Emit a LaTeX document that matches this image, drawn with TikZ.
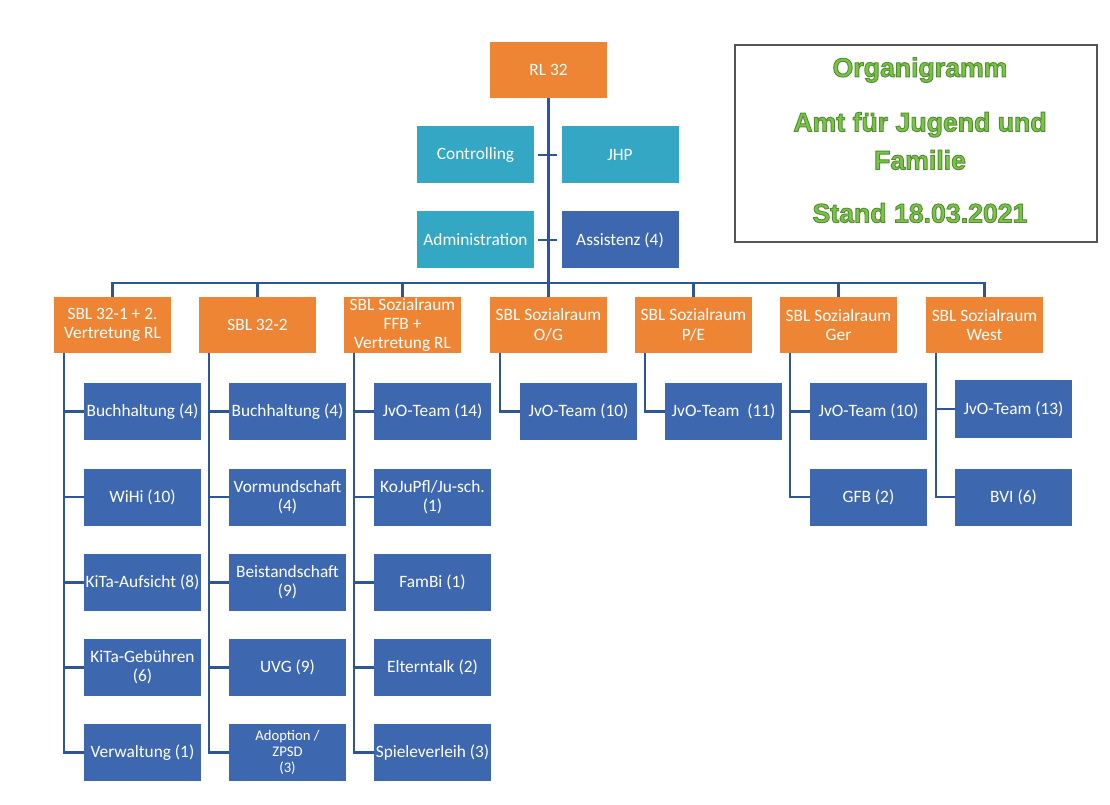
\documentclass[tikz,border=0pt]{standalone}
\usepackage{fontspec}
\setmainfont{Carlito}
\newfontfamily\titlefont{Liberation Sans}
\usetikzlibrary{calc}
\definecolor{orangebox}{HTML}{EE8535}
\definecolor{bluebox}{HTML}{3D68B0}
\definecolor{tealbox}{HTML}{33A7C4}
\definecolor{linecol}{HTML}{2E5596}
\definecolor{titlegreen}{HTML}{7AC447}
\definecolor{framegray}{HTML}{555555}
\newcommand\outlinedtext[1]{\special{pdf:literal direct 0.33 0.55 0.20 RG 0.7 w 2 Tr}#1\special{pdf:literal direct 0 Tr}}
\begin{document}
\begin{tikzpicture}[x=0.75pt,y=-0.75pt,
  box/.style={minimum width=87.75pt,minimum height=42.75pt,inner sep=1pt,align=center,text=white,font=\fontsize{13}{14.5}\selectfont},
  sbl/.style={box,fill=orangebox,minimum height=42pt},
  unit/.style={box,fill=bluebox},
  staff/.style={box,fill=tealbox},
  conn/.style={draw=linecol,line width=1.8pt},
  titletext/.style={text=titlegreen,font=\titlefont\bfseries\fontsize{20}{28.5}\selectfont,align=center}
]
\useasboundingbox[fill=white] (0,0) rectangle (1110,805);

% top
\node[sbl] (rl) at (548.5,70) {RL 32};
\node[staff] (ctrl) at (475.5,155) {Controlling};
\node[staff] (jhp) at (620,155) {JHP};
\node[staff] (adm) at (475.5,240) {Administration};
\node[unit] (ass) at (620,240) {Assistenz (4)};

% SBL row
\node[sbl] (s1) at (112.5,325) {SBL 32-1 + 2.\\Vertretung RL};
\node[sbl] (s2) at (257.5,325) {SBL 32-2};
\node[sbl] (s3) at (402.5,325) {SBL Sozialraum\\FFB +\\Vertretung RL};
\node[sbl] (s4) at (548.5,325) {SBL Sozialraum\\O/G};
\node[sbl] (s5) at (693.5,325) {SBL Sozialraum\\P/E};
\node[sbl] (s6) at (838.5,325) {SBL Sozialraum\\Ger};
\node[sbl] (s7) at (984.5,325) {SBL Sozialraum\\West};

% column 1
\node[unit] (c11) at (142.5,411.5) {Buchhaltung (4)};
\node[unit] (c12) at (142.5,497) {WiHi (10)};
\node[unit] (c13) at (142.5,582.5) {KiTa-Aufsicht (8)};
\node[unit] (c14) at (142.5,667.5) {KiTa-Gebühren\\(6)};
\node[unit] (c15) at (142.5,752.5) {Verwaltung (1)};
% column 2
\node[unit] (c21) at (287.5,411.5) {Buchhaltung (4)};
\node[unit] (c22) at (287.5,497) {Vormundschaft\\(4)};
\node[unit] (c23) at (287.5,582.5) {Beistandschaft\\(9)};
\node[unit] (c24) at (287.5,667.5) {UVG (9)};
\node[unit,font=\fontsize{11}{12}\selectfont] (c25) at (287.5,752.5) {Adoption /\\ZPSD\\(3)};
% column 3
\node[unit] (c31) at (432.5,411.5) {JvO-Team (14)};
\node[unit] (c32) at (432.5,497) {KoJuPfl/Ju-sch.\\(1)};
\node[unit] (c33) at (432.5,582.5) {FamBi (1)};
\node[unit] (c34) at (432.5,667.5) {Elterntalk (2)};
\node[unit] (c35) at (432.5,752.5) {Spieleverleih (3)};
% columns 4-7
\node[unit] (c41) at (578.5,411.5) {JvO-Team (10)};
\node[unit] (c51) at (723.5,411.5) {JvO-Team~~(11)};
\node[unit] (c61) at (868.5,411.5) {JvO-Team (10)};
\node[unit] (c62) at (868.5,497) {GFB (2)};
\node[unit] (c71) at (1013.5,409) {JvO-Team (13)};
\node[unit] (c72) at (1013.5,497) {BVI (6)};

% connectors: top
\coordinate (bus) at (548.5,283);
\draw[conn] (rl.south) -- (bus);
\draw[conn,shorten <=3pt,shorten >=3pt] (ctrl.east) -- (jhp.west);
\draw[conn,shorten <=3pt,shorten >=3pt] (adm.east) -- (ass.west);
\draw[conn] (s1.north) |- (s7.north |- bus) -- (s7.north);
\foreach \s in {s2,s3,s4,s5,s6}{\draw[conn] (\s.north) -- (\s.north |- bus);}

% stems
\foreach \s/\last in {s1/c15,s2/c25,s3/c35,s4/c41,s5/c51,s6/c62,s7/c72}{
  \coordinate (st-\s) at ($(\s.south west)+(10,0)$);
  \draw[conn] (st-\s) |- (\last.west);
}
\foreach \c/\s in {c11/s1,c12/s1,c13/s1,c14/s1,c21/s2,c22/s2,c23/s2,c24/s2,c31/s3,c32/s3,c33/s3,c34/s3,c61/s6,c71/s7}{
  \draw[conn] (\c.west) -- (\c.west -| st-\s);
}

% title box
\node[draw=framegray,line width=1.2pt,minimum width=271.5pt,minimum height=147.75pt,inner sep=0pt] (tbox) at (916,143.5) {};
\node[titletext] (t1) at (920,70) {\outlinedtext{Organigramm}};
\node[titletext] (t2) at (920,141) {\outlinedtext{Amt für Jugend und}\\\outlinedtext{Familie}};
\node[titletext] (t3) at (920,213) {\outlinedtext{Stand 18.03.2021}};
\end{tikzpicture}
\end{document}
